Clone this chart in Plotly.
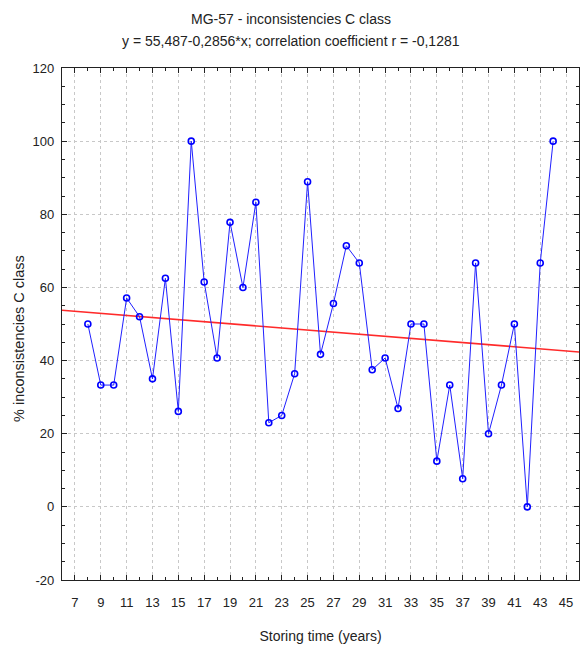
import plotly.graph_objects as go

# Storing time (years) and share of class-C inconsistencies (%)
years = [8, 9, 10, 11, 12, 13, 14, 15, 16, 17, 18, 19, 20, 21, 22, 23, 24, 25,
         26, 27, 28, 29, 30, 31, 32, 33, 34, 35, 36, 37, 38, 39, 40, 41, 42, 43, 44]
pct_c = [50, 33.3, 33.3, 57.1, 52, 35, 62.5, 26.1, 100, 61.5, 40.7, 77.8, 60, 83.3,
         23, 25, 36.4, 88.9, 41.7, 55.6, 71.4, 66.7, 37.5, 40.7, 26.9, 50, 50, 12.5,
         33.3, 7.7, 66.7, 20, 33.3, 50, 0, 66.7, 100]

# Linear fit y = a + b*x
fit_a = 55.487
fit_b = -0.2856
fit_r = -0.1281
fit_x = [6, 46]
fit_y = [fit_a + fit_b * x for x in fit_x]

x_ticks = list(range(7, 46, 2))
y_ticks = list(range(-20, 121, 20))

FONT = "Liberation Sans, Arial, sans-serif"
INK = "#222"

W, H = 581, 650
ML, MR, MT, MB = 62, 2, 68, 70
plot_w = W - ML - MR
plot_h = H - MT - MB


def px_to_paper_y(ypix):
    return 1 - (ypix - MT) / plot_h


def px_to_paper_x(xpix):
    return (xpix - ML) / plot_w


fig = go.Figure()
fig.add_trace(go.Scatter(
    x=fit_x, y=fit_y, mode="lines",
    line=dict(color="#ff2a2a", width=1.6),
    showlegend=False, hoverinfo="skip",
))
fig.add_trace(go.Scatter(
    x=years, y=pct_c, mode="lines+markers",
    line=dict(color="#2020ff", width=1),
    marker=dict(symbol="circle-open", size=6, color="#0000ff",
                line=dict(width=1.6, color="#0000ff")),
    showlegend=False,
))

title1 = "MG-57 - inconsistencies C class"
title2 = ("y = " + f"{fit_a:.3f}".replace(".", ",") + f"{fit_b:.4f}".replace(".", ",")
          + "*x; correlation coefficient r = " + f"{fit_r:.4f}".replace(".", ","))

# two title lines, centred on the page
for text, ypix in [(title1, 19), (title2, 41)]:
    fig.add_annotation(
        text=text, xref="paper", yref="paper",
        x=px_to_paper_x(W / 2), y=px_to_paper_y(ypix),
        xanchor="center", yanchor="middle", showarrow=False,
        font=dict(size=14, color=INK, family=FONT),
    )

# rotated y-axis title
fig.add_annotation(
    text="% inconsistencies C class", xref="paper", yref="paper",
    x=px_to_paper_x(19), y=px_to_paper_y(339),
    xanchor="center", yanchor="middle", textangle=-90, showarrow=False,
    font=dict(size=14.5, color=INK, family=FONT),
)

axis_common = dict(
    showline=True, linecolor=INK, linewidth=1.2, mirror="ticks",
    ticks="inside", tickcolor=INK, ticklen=5, tickwidth=1,
    showgrid=True, gridcolor="#c8c8c8", gridwidth=1, griddash="dot",
    zeroline=False,
    tickfont=dict(size=13, color=INK, family=FONT),
)

fig.update_xaxes(
    range=[6, 46], tickmode="array", tickvals=x_ticks, ticktext=[str(v) for v in x_ticks],
    minor=dict(ticks="inside", dtick=1, tick0=6, ticklen=3, tickcolor=INK, showgrid=False),
    ticklabelstandoff=10,
    title=dict(text="Storing time (years)", font=dict(size=14, color=INK, family=FONT), standoff=22),
    **axis_common,
)
fig.update_yaxes(
    range=[-20, 120], tickmode="array", tickvals=y_ticks, ticktext=[str(v) for v in y_ticks],
    minor=dict(ticks="inside", dtick=5, tick0=0, ticklen=3, tickcolor=INK, showgrid=False),
    ticklabelstandoff=4,
    **axis_common,
)

fig.update_layout(
    width=W, height=H,
    margin=dict(l=ML, r=MR, t=MT, b=MB),
    plot_bgcolor="white", paper_bgcolor="white",
    font=dict(family=FONT, color=INK),
)

fig.write_html("out.html")
